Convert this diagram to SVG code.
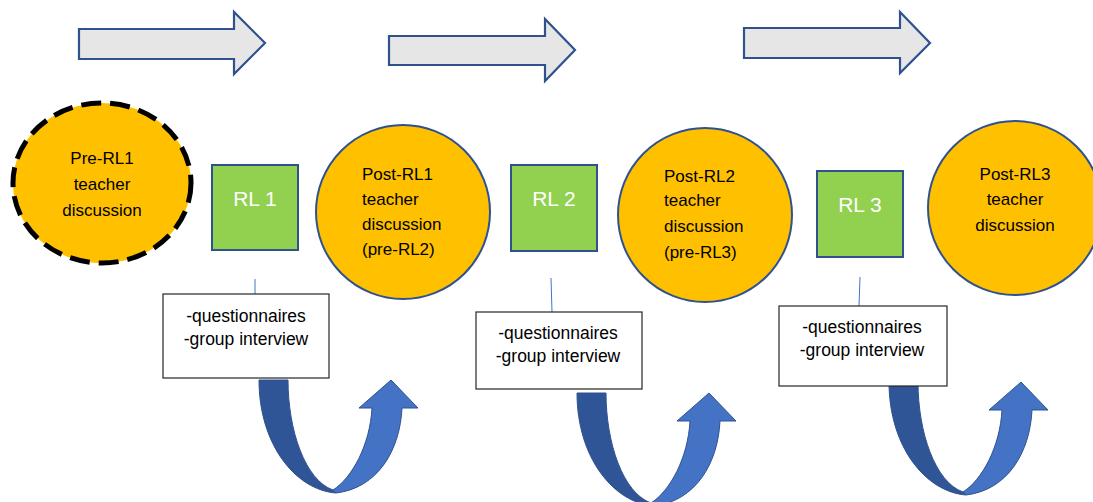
<svg xmlns="http://www.w3.org/2000/svg" xmlns:xlink="http://www.w3.org/1999/xlink" width="1093" height="502" viewBox="0 0 1093 502">
<style>
.flow{fill:#E7E6E6;stroke:#2F528F;stroke-width:2.2;stroke-linejoin:miter}
.disc{fill:#FFC000;stroke:#2F528F;stroke-width:2}
.disc0{fill:#FFC000;stroke:#000;stroke-width:5;stroke-dasharray:20 9}
.rl{fill:#92D050;stroke:#2F528F;stroke-width:2}
.box{fill:#fff;stroke:#262626;stroke-width:1.2}
.t{font-family:"Liberation Sans",Arial,sans-serif;font-size:17px;fill:#000}
.b{font-size:17.5px}
.c{text-anchor:middle}
.rlt{font-family:"Liberation Sans",Arial,sans-serif;font-size:21px;fill:#fff;text-anchor:middle}
.lnk{stroke:#4472C4;stroke-width:1;fill:none}
.ud{fill:#2F5597;stroke:#2F528F;stroke-width:1}
.ul{fill:#4472C4;stroke:#2F528F;stroke-width:1}
</style>
<defs>
<g id="uturn">
<path class="ud" d="M259,380 L288,380 C288,430 305,480 333,490 L336,493 C296,490 259,445 259,380 Z"/>
<path class="ul" d="M333,490 C352,478 370,445 372,408 L359,408 L391,380 L418,408 L402,408 C400,450 378,488 336,493 Z"/>
</g>
</defs>
<g id="flow-arrows">
<polygon class="flow" points="79,29 234,29 234,12 265,43 234,74 234,59 79,59"/>
<polygon class="flow" points="389,36 545,36 545,19 575,50 545,81 545,65 389,65"/>
<polygon class="flow" points="744,28 900,28 900,12 930,43 900,73 900,58 744,58"/>
</g>
<g id="connectors">
<line class="lnk" x1="255" y1="279" x2="255" y2="294"/>
<line class="lnk" x1="551" y1="278" x2="552" y2="312"/>
<line class="lnk" x1="860" y1="277" x2="859" y2="306"/>
</g>
<g id="pre-rl1">
<ellipse class="disc0" cx="102" cy="183" rx="89" ry="80"/>
<text class="t c" x="102" y="164">Pre-RL1</text>
<text class="t c" x="102" y="190">teacher</text>
<text class="t c" x="102" y="216">discussion</text>
</g>
<g id="rl1">
<rect class="rl" x="212" y="165" width="86" height="85"/>
<text class="rlt" x="255" y="206">RL 1</text>
</g>
<g id="post-rl1">
<circle class="disc" cx="403" cy="212" r="87"/>
<text class="t" x="362" y="180">Post-RL1</text>
<text class="t" x="362" y="205">teacher</text>
<text class="t" x="362" y="230">discussion</text>
<text class="t" x="362" y="255">(pre-RL2)</text>
</g>
<g id="rl2">
<rect class="rl" x="511" y="165" width="86" height="86"/>
<text class="rlt" x="554" y="206">RL 2</text>
</g>
<g id="post-rl2">
<circle class="disc" cx="705" cy="215" r="87"/>
<text class="t" x="664" y="182">Post-RL2</text>
<text class="t" x="664" y="206">teacher</text>
<text class="t" x="664" y="232">discussion</text>
<text class="t" x="664" y="258">(pre-RL3)</text>
</g>
<g id="rl3">
<rect class="rl" x="817" y="171" width="86" height="86"/>
<text class="rlt" x="860" y="212">RL 3</text>
</g>
<g id="post-rl3">
<circle class="disc" cx="1015" cy="208" r="87"/>
<text class="t c" x="1015" y="180">Post-RL3</text>
<text class="t c" x="1015" y="205">teacher</text>
<text class="t c" x="1015" y="231">discussion</text>
</g>
<g id="uturn1"><use xlink:href="#uturn"/></g>
<g id="uturn2"><use xlink:href="#uturn" transform="translate(318,13)"/></g>
<g id="uturn3"><use xlink:href="#uturn" transform="translate(630,2)"/></g>
<g id="data1">
<rect class="box" x="163" y="294" width="166" height="84"/>
<text class="t b c" x="246" y="322">-questionnaires</text>
<text class="t b c" x="246" y="345">-group interview</text>
</g>
<g id="data2">
<rect class="box" x="476" y="312" width="166" height="77"/>
<text class="t b c" x="558" y="339">-questionnaires</text>
<text class="t b c" x="558" y="362">-group interview</text>
</g>
<g id="data3">
<rect class="box" x="779" y="306" width="168" height="80"/>
<text class="t b c" x="862" y="333">-questionnaires</text>
<text class="t b c" x="862" y="356">-group interview</text>
</g>
</svg>
